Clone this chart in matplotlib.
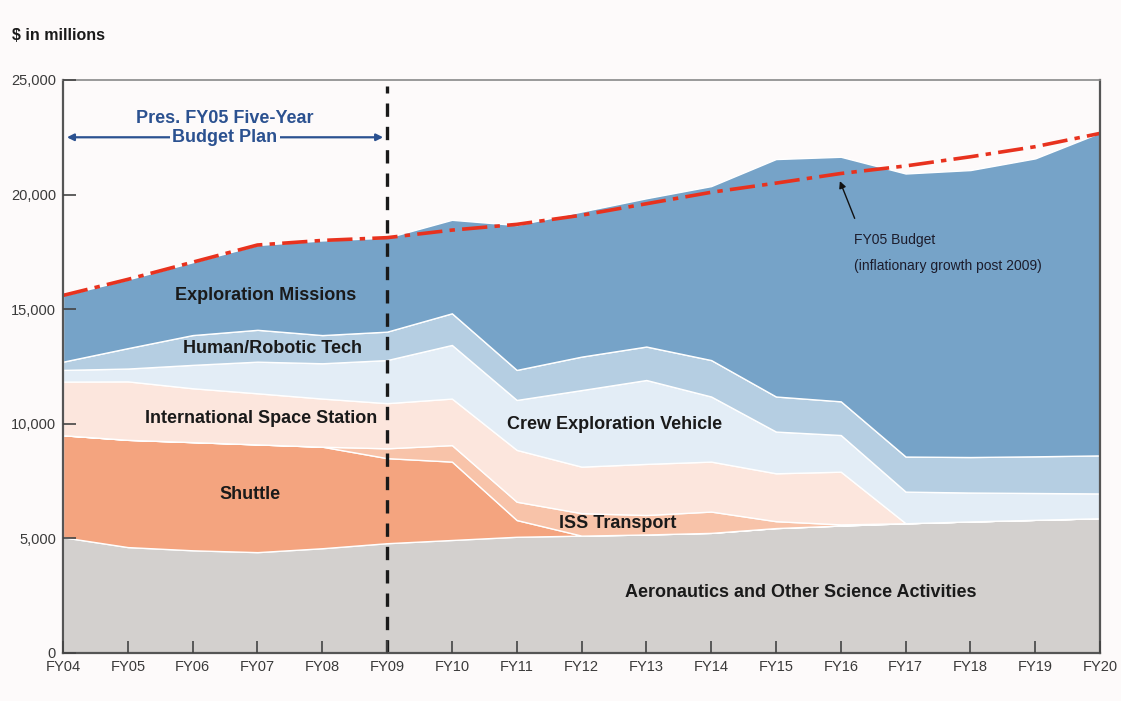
import numpy as np
import matplotlib
matplotlib.use("Agg")
import matplotlib.pyplot as plt
from matplotlib.ticker import FuncFormatter

# fiscal years on the x axis
years = ["FY04", "FY05", "FY06", "FY07", "FY08", "FY09", "FY10", "FY11", "FY12",
         "FY13", "FY14", "FY15", "FY16", "FY17", "FY18", "FY19", "FY20"]

# $ in millions (bottom layer first)
aeronautics = [5050, 4620, 4480, 4400, 4570, 4790, 4930, 5070, 5120,
               5170, 5240, 5450, 5560, 5660, 5740, 5810, 5880]
shuttle = [4450, 4680, 4720, 4700, 4430, 3710, 3420, 730, 0,
           0, 0, 0, 0, 0, 0, 0, 0]
iss_transport = [0, 0, 0, 0, 0, 430, 720, 800, 980,
                 850, 930, 300, 50, 0, 0, 0, 0]
iss = [2340, 2550, 2350, 2230, 2100, 1970, 2030, 2260, 2030,
       2230, 2180, 2090, 2300, 0, 0, 0, 0]
cev = [510, 560, 1020, 1380, 1540, 1880, 2340, 2180, 3340,
       3660, 2840, 1820, 1600, 1380, 1260, 1170, 1080]
human_robotic = [360, 890, 1300, 1390, 1230, 1240, 1380, 1310, 1460,
                 1460, 1590, 1530, 1470, 1530, 1550, 1600, 1660]
exploration = [2890, 3000, 3180, 3700, 4130, 4100, 4080, 6320, 6330,
               6470, 7590, 10360, 10670, 12350, 12520, 13000, 14080]

# FY05 budget line (inflationary growth post 2009)
fy05_budget = [15600, 16300, 17050, 17800, 18000, 18120, 18450, 18700, 19100,
               19600, 20100, 20500, 20920, 21250, 21650, 22090, 22670]

cores = ["#d3d0ce", "#f4a47f", "#f8c3a9", "#fce6dd", "#e3edf6", "#b5cee2", "#76a3c8"]
fonte = ["Liberation Sans Narrow", "Liberation Sans", "DejaVu Sans"]
fundo = "#fdfafa"

x = np.arange(len(years))

fig = plt.figure(figsize=(11.21, 7.01), dpi=100, facecolor=fundo)
ax = fig.add_axes([0.0562, 0.0685, 0.9251, 0.8174], facecolor=fundo)

# camadas empilhadas
ax.stackplot(x, aeronautics, shuttle, iss_transport, iss, cev, human_robotic, exploration,
             colors=cores, edgecolor="white", linewidth=1.0)

# linha do orçamento FY05
ax.plot(x, fy05_budget, color="#e8321e", linewidth=2.6, linestyle=(0, (7, 2, 1.5, 2)))

# linha tracejada em FY09
ax.axvline(5, color="#1a1a1a", linewidth=2.4, linestyle=(0, (4, 3)), ymax=0.99)

ax.set_xlim(0, len(years) - 1)
ax.set_ylim(0, 25000)
ax.set_xticks(x)
ax.set_xticklabels(years)
ax.set_yticks(range(0, 25001, 5000))
ax.yaxis.set_major_formatter(FuncFormatter(lambda v, p: "{:,.0f}".format(v)))
ax.tick_params(axis="both", direction="in", length=9, width=1.2, color="#444444",
               labelsize=10.5, labelcolor="#3a3a3a")
ax.tick_params(axis="x", pad=5)
ax.tick_params(axis="y", pad=5)
for lbl in ax.get_xticklabels() + ax.get_yticklabels():
    lbl.set_family(fonte)

for s in ["left", "bottom", "right"]:
    ax.spines[s].set_color("#555555")
    ax.spines[s].set_linewidth(1.6)
ax.spines["top"].set_color("#888888")
ax.spines["top"].set_linewidth(1.2)
ax.set_axisbelow(False)

# rótulos das camadas
rot = dict(fontsize=13, fontweight="bold", color="#1a1a1a", ha="center", va="center",
           family=fonte)
ax.text(3.12, 15600, "Exploration Missions", **rot)
ax.text(3.23, 13300, "Human/Robotic Tech", **rot)
ax.text(3.06, 10250, "International Space Station", **rot)
ax.text(2.89, 6900, "Shuttle", **rot)
ax.text(8.51, 9950, "Crew Exploration Vehicle", **rot)
ax.text(8.56, 5670, "ISS Transport", **rot)
ax.text(11.38, 2620, "Aeronautics and Other Science Activities", **rot)

# anotação do orçamento
ax.annotate("", xy=(11.97, 20700), xytext=(12.23, 18850),
            arrowprops=dict(arrowstyle="-|>", color="#111111", lw=1.0, mutation_scale=10))
ax.text(12.2, 18000, "FY05 Budget", fontsize=10, color="#1c1c2c", ha="left", va="center",
        family=fonte)
ax.text(12.2, 16900, "(inflationary growth post 2009)", fontsize=10, color="#1c1c2c",
        ha="left", va="center", family=fonte)

# plano de cinco anos
azul = "#2b5190"
ax.annotate("", xy=(0.06, 22500), xytext=(4.94, 22500),
            arrowprops=dict(arrowstyle="<|-|>", color=azul, lw=1.6, mutation_scale=10,
                            shrinkA=0, shrinkB=0))
ax.text(2.5, 23300, "Pres. FY05 Five-Year", fontsize=13, fontweight="bold", color=azul,
        ha="center", va="center", family=fonte)
ax.text(2.5, 22500, "Budget Plan", fontsize=13, fontweight="bold", color=azul,
        ha="center", va="center", family=fonte,
        bbox=dict(facecolor=fundo, edgecolor="none", pad=1.5))

fig.text(0.011, 0.95, "$ in millions", fontsize=11.5, fontweight="bold", color="#1a1a1a",
         ha="left", va="center", family=fonte)

fig.savefig("out.png", dpi=100, facecolor=fundo)
